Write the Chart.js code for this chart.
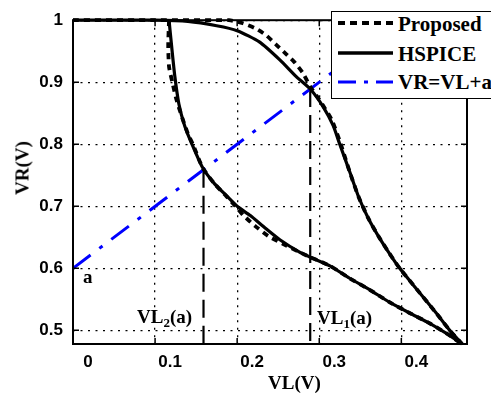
<!DOCTYPE html>
<html>
<head>
<meta charset="utf-8">
<script src="https://cdn.jsdelivr.net/npm/chart.js@4.4.0/dist/chart.umd.min.js"></script>
<style>
  html, body { margin: 0; padding: 0; background: #fff; overflow: hidden; }
  #wrap { position: relative; width: 491px; height: 394px; overflow: hidden; }
  #chart { position: absolute; left: 0; top: 0; }
  .txt { position: absolute; font-family: 'Liberation Serif', 'Times New Roman', serif; font-weight: bold; color: #000; line-height: 1; white-space: nowrap; }
  .sub { font-size: 13px; position: relative; top: 4px; }
  #legendBox { position: absolute; left: 331px; top: 11px; width: 200px; height: 88px; box-sizing: border-box; border: 1.5px solid #000; background: #fff; }
  #legendLines { position: absolute; left: 0; top: 0; }
</style>
</head>
<body>
<div id="wrap">
  <canvas id="chart" width="491" height="394"></canvas>
  <div id="legendBox"></div>
  <svg id="legendLines" width="491" height="394">
    <line x1="338" y1="23" x2="393" y2="23" stroke="#000" stroke-width="4" stroke-dasharray="7 5"/>
    <line x1="338" y1="53" x2="393" y2="53" stroke="#000" stroke-width="3.5"/>
    <line x1="338" y1="82" x2="393" y2="82" stroke="#0000ff" stroke-width="3" stroke-dasharray="18 8 4 8"/>
  </svg>
  <div class="txt" style="left:398px; top:14px; font-size:21px;">Proposed</div>
  <div class="txt" style="left:398px; top:44px; font-size:21px;">HSPICE</div>
  <div class="txt" style="left:398px; top:72px; font-size:21px;">VR=VL+a</div>
  <div class="txt" style="left:83px; top:267px; font-size:19px;">a</div>
  <div class="txt" style="left:137px; top:307px; font-size:19px;">VL<span class="sub">2</span>(a)</div>
  <div class="txt" style="left:317px; top:308px; font-size:19px;">VL<span class="sub">1</span>(a)</div>
  <div class="txt" style="left:268px; top:373px; font-size:19px;">VL(V)</div>
  <div class="txt" style="left:22px; top:168px; font-size:19px; transform: translate(-50%, -50%) rotate(-90deg);">VR(V)</div>
</div>
<script>
// axis ticks
const xTicks = [0, 0.1, 0.2, 0.3, 0.4];
const xTickLabels = ['0', '0.1', '0.2', '0.3', '0.4'];
const yTicks = [0.5, 0.6, 0.7, 0.8, 0.9, 1.0];
const yTickLabels = ['0.5', '0.6', '0.7', '0.8', '0.9', '1'];
const X_MIN = 0, X_MAX = 0.48;
const Y_MIN = 0.478, Y_MAX = 1.0;

// HSPICE butterfly curves (VL, VR)
const hspiceUpperVL = [0, 0.05, 0.1, 0.14, 0.175, 0.2, 0.227, 0.252, 0.272, 0.289, 0.305, 0.317, 0.325, 0.337, 0.348, 0.36, 0.372, 0.385, 0.398, 0.419, 0.443, 0.459, 0.474];
const hspiceUpperVR = [1, 1, 1, 0.998, 0.991, 0.983, 0.965, 0.936, 0.909, 0.889, 0.86, 0.83, 0.8, 0.756, 0.715, 0.68, 0.652, 0.625, 0.6, 0.566, 0.527, 0.5, 0.478];
const hspiceLowerVL = [0.117, 0.12, 0.124, 0.129, 0.136, 0.145, 0.158, 0.172, 0.187, 0.2, 0.216, 0.234, 0.252, 0.276, 0.289, 0.313, 0.337, 0.362, 0.386, 0.41, 0.435, 0.455, 0.474];
const hspiceLowerVR = [1, 0.96, 0.91, 0.865, 0.83, 0.8, 0.762, 0.737, 0.717, 0.7, 0.685, 0.665, 0.646, 0.626, 0.618, 0.604, 0.584, 0.565, 0.545, 0.528, 0.511, 0.495, 0.478];

// Proposed model curves
const propUpperVL = [0, 0.1, 0.19, 0.207, 0.222, 0.236, 0.248, 0.26, 0.27, 0.28, 0.289, 0.3, 0.315, 0.325, 0.337, 0.348, 0.36, 0.372, 0.385, 0.398, 0.419, 0.443, 0.459, 0.474];
const propUpperVR = [1, 1, 1, 0.995, 0.987, 0.975, 0.96, 0.945, 0.932, 0.915, 0.893, 0.872, 0.84, 0.805, 0.756, 0.715, 0.68, 0.652, 0.625, 0.6, 0.566, 0.527, 0.5, 0.478];
const propLowerVL = [0.117, 0.116, 0.117, 0.121, 0.126, 0.133, 0.14, 0.146, 0.158, 0.172, 0.187, 0.2, 0.207, 0.222, 0.238, 0.255, 0.276, 0.289, 0.313, 0.337, 0.362, 0.386, 0.41, 0.435, 0.455, 0.474];
const propLowerVR = [1, 0.96, 0.925, 0.9, 0.872, 0.843, 0.817, 0.8, 0.762, 0.737, 0.716, 0.697, 0.686, 0.668, 0.652, 0.64, 0.626, 0.618, 0.604, 0.584, 0.565, 0.545, 0.528, 0.511, 0.495, 0.478];

// VR = VL + a line
const lineVL = [0, 0.4];
const lineVR = [0.6, 1.0];

// crossing points VL2(a), VL1(a)
const crossVL = [0.159, 0.289];
const crossVR = [0.759, 0.889];

function toPoints(xs, ys) {
  return xs.map((x, i) => ({ x: x, y: ys[i] }));
}

const tickFont = { family: "'Liberation Sans', Arial, sans-serif", size: 17, weight: 'bold' };

// box with inward ticks, MATLAB style
const framePlugin = {
  id: 'frame',
  afterDraw(chart) {
    const { ctx, chartArea: a, scales } = chart;
    ctx.save();
    ctx.strokeStyle = '#000';
    ctx.lineWidth = 2;
    ctx.strokeRect(a.left, a.top, a.right - a.left, a.bottom - a.top);
    ctx.lineWidth = 1.5;
    ctx.beginPath();
    xTicks.forEach(v => {
      const px = scales.x.getPixelForValue(v);
      ctx.moveTo(px, a.bottom); ctx.lineTo(px, a.bottom - 6);
      ctx.moveTo(px, a.top); ctx.lineTo(px, a.top + 6);
    });
    yTicks.forEach(v => {
      const py = scales.y.getPixelForValue(v);
      ctx.moveTo(a.left, py); ctx.lineTo(a.left + 6, py);
      ctx.moveTo(a.right, py); ctx.lineTo(a.right - 6, py);
    });
    ctx.stroke();
    ctx.restore();
  }
};

const curveStyle = { showLine: true, pointRadius: 0, tension: 0.2, clip: false, fill: false };

const datasets = [
  Object.assign({ label: 'HSPICE', data: toPoints(hspiceUpperVL, hspiceUpperVR), borderColor: '#000', borderWidth: 3.2 }, curveStyle),
  Object.assign({ label: 'HSPICE', data: toPoints(hspiceLowerVL, hspiceLowerVR), borderColor: '#000', borderWidth: 3.2 }, curveStyle),
  Object.assign({ label: 'Proposed', data: toPoints(propUpperVL, propUpperVR), borderColor: '#000', borderWidth: 3.8, borderDash: [6, 5] }, curveStyle),
  Object.assign({ label: 'Proposed', data: toPoints(propLowerVL, propLowerVR), borderColor: '#000', borderWidth: 3.8, borderDash: [6, 5] }, curveStyle),
  { label: 'VR=VL+a', data: toPoints(lineVL, lineVR), showLine: true, pointRadius: 0, borderColor: '#0000ff', borderWidth: 3, borderDash: [22, 11, 4, 11] }
];

crossVL.forEach((vl, i) => {
  datasets.push({
    label: 'VL' + (2 - i) + '(a)',
    data: [{ x: vl, y: crossVR[i] }, { x: vl, y: Y_MIN }],
    showLine: true, pointRadius: 0, borderColor: '#000', borderWidth: 2.2, borderDash: [18, 8]
  });
});

new Chart(document.getElementById('chart'), {
  type: 'scatter',
  data: { datasets: datasets },
  options: {
    responsive: false,
    animation: false,
    layout: { padding: { left: 0, top: 12, right: 24, bottom: 0 } },
    plugins: { legend: { display: false }, tooltip: { enabled: false } },
    scales: {
      x: {
        type: 'linear', min: X_MIN, max: X_MAX,
        afterBuildTicks: s => { s.ticks = xTicks.map(v => ({ value: v })); },
        afterFit: s => { s.height = 50; },
        ticks: {
          callback: (v, i) => xTickLabels[i],
          autoSkip: false, maxRotation: 0, labelOffset: 15, padding: 8,
          font: tickFont, color: '#000'
        },
        grid: { color: '#000', lineWidth: 1.3, drawTicks: false },
        border: { display: false, dash: [2, 5.5] }
      },
      y: {
        type: 'linear', min: Y_MIN, max: Y_MAX,
        afterBuildTicks: s => { s.ticks = yTicks.map(v => ({ value: v })); },
        afterFit: s => { s.width = 73; },
        ticks: {
          callback: (v, i) => yTickLabels[i],
          autoSkip: false, padding: 10,
          font: tickFont, color: '#000'
        },
        grid: { color: '#000', lineWidth: 1.3, drawTicks: false },
        border: { display: false, dash: [2, 5.5] }
      }
    }
  },
  plugins: [framePlugin]
});
</script>
</body>
</html>
